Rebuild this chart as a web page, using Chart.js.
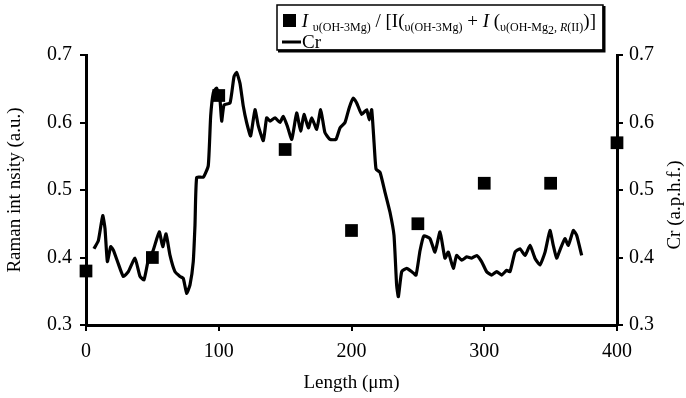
<!DOCTYPE html>
<html>
<head>
<meta charset="utf-8">
<script src="https://cdn.jsdelivr.net/npm/chart.js@4/dist/chart.umd.min.js"></script>
<style>
    html, body { margin: 0; padding: 0; background: #fff; }
    #wrap { width: 686px; height: 398px; position: relative; }
</style>
</head>
<body>
<div id="wrap"><canvas id="chart"></canvas></div>
<script>
// ===== DATA =====
const sampleLengths = [0, 50, 100, 150, 200, 250, 300, 350, 400];
const ramanRatio = [0.38, 0.40, 0.64, 0.56, 0.44, 0.45, 0.51, 0.51, 0.57];

const crLengths = [6.0, 9.3, 12.6, 14.3, 16.1, 18.6, 20.6, 24.3, 28.1, 31.9, 36.9, 40.7, 43.7, 46.9, 50.5,
    55.2, 57.8, 60.3, 63.3, 67.0, 70.8, 73.3, 75.8, 78.3, 80.8, 82.1, 83.4, 88.4, 92.1, 93.9, 95.9, 98.4,
    100.9, 102.2, 104, 108.5, 111.5, 113.5, 116, 118.5, 121, 124, 127.3, 129.8, 133.6, 136.1, 138.6, 142.4,
    146.1, 148.6, 151.6, 155, 158.7, 161.7, 164.2, 167.5, 170, 173.8, 176.8, 180, 183.8, 188.3, 191.3,
    195.1, 198.3, 201.4, 203.9, 207.7, 211.4, 213.4, 215.2, 217, 218.5, 221.5, 225.2, 229, 232, 234, 235.3,
    237.8, 241.6, 245.4, 248.6, 251.6, 254.5, 259.1, 262.9, 266.7, 270.4, 272.9, 276.7, 279.2, 283, 286.8,
    290.5, 294.3, 298, 301.8, 305.6, 309.4, 313.1, 316.9, 319.4, 323.2, 326.9, 330.7, 334.5, 338.2, 342,
    345.8, 349.5, 352, 354.5, 357, 360.8, 363.3, 367.1, 369.6, 373.4];
const crValues = [0.413, 0.425, 0.462, 0.443, 0.394, 0.416, 0.411, 0.391, 0.372, 0.379, 0.399, 0.372, 0.367, 0.396, 0.41,
    0.438, 0.416, 0.435, 0.403, 0.379, 0.372, 0.369, 0.347, 0.359, 0.394, 0.448, 0.519, 0.519, 0.536, 0.609, 0.644, 0.651,
    0.634, 0.602, 0.626, 0.629, 0.668, 0.674, 0.658, 0.624, 0.600, 0.580, 0.619, 0.595, 0.573, 0.607, 0.602, 0.607,
    0.600, 0.609, 0.595, 0.575, 0.614, 0.587, 0.612, 0.592, 0.607, 0.590, 0.619, 0.585, 0.575, 0.575, 0.592,
    0.600, 0.622, 0.636, 0.629, 0.612, 0.619, 0.604, 0.619, 0.570, 0.531, 0.526, 0.497, 0.467, 0.433, 0.359, 0.342,
    0.379, 0.384, 0.379, 0.374, 0.41, 0.432, 0.428, 0.408, 0.438, 0.399, 0.408, 0.384, 0.403, 0.396, 0.401,
    0.399, 0.403, 0.394, 0.379, 0.374, 0.379, 0.374, 0.381, 0.379, 0.408, 0.413, 0.403, 0.418, 0.399, 0.389,
    0.408, 0.440, 0.418, 0.399, 0.411, 0.428, 0.418, 0.440, 0.433, 0.403];

const yTicks = [0.3, 0.4, 0.5, 0.6, 0.7];
const xTicks = [0, 100, 200, 300, 400];

const SERIF = '"Liberation Serif", "DejaVu Serif", serif';

// legend drawn by hand because of the subscripts
const legendPlugin = {
    id: 'paperLegend',
    afterDraw(chart) {
        const ctx = chart.ctx;
        ctx.save();
        // box with heavier right / bottom edge
        ctx.fillStyle = '#fff';
        ctx.fillRect(277, 5, 326, 45);
        ctx.strokeStyle = '#000';
        ctx.lineWidth = 1.5;
        ctx.strokeRect(277, 5, 326, 45);
        ctx.lineWidth = 3;
        ctx.beginPath();
        ctx.moveTo(278, 51); ctx.lineTo(604, 51); ctx.lineTo(604, 6);
        ctx.stroke();

        // square marker
        ctx.fillStyle = '#000';
        ctx.fillRect(283, 14, 13, 13);

        const big = '19px ' + SERIF, bigI = 'italic 19px ' + SERIF;
        const sub = '12px ' + SERIF, subI = 'italic 12px ' + SERIF;
        const parts = [
            [' ', big, 0], ['I', bigI, 0], [' ', big, 0], ['\u03c5(OH-3Mg)', sub, 4], [' / [I(', big, 0],
            ['\u03c5(OH-3Mg)', sub, 4], [' + ', big, 0], ['I', bigI, 0], [' (', big, 0],
            ['\u03c5(OH-Mg', sub, 4], ['2', sub, 7], [', ', sub, 4], ['R', subI, 4], ['(II)', sub, 4], [')]', big, 0]
        ];
        let x = 297;
        const base = 27;
        ctx.textBaseline = 'alphabetic';
        parts.forEach(p => {
            ctx.font = p[1];
            ctx.fillText(p[0], x, base + p[2]);
            x += ctx.measureText(p[0]).width;
        });

        // Cr line
        ctx.lineWidth = 3;
        ctx.beginPath();
        ctx.moveTo(282, 42); ctx.lineTo(301, 42);
        ctx.stroke();
        ctx.font = big;
        ctx.fillText('Cr', 302, 48);

        // right axis title, reading bottom to top
        ctx.translate(675, 205);
        ctx.rotate(-Math.PI / 2);
        ctx.textAlign = 'center';
        ctx.textBaseline = 'middle';
        ctx.font = '19px ' + SERIF;
        ctx.fillText('Cr (a.p.h.f.)', 0, 0);
        ctx.restore();
    }
};

function axisStyle() {
    return {
        border: { color: '#000', width: 3 },
        grid: { drawOnChartArea: false, color: '#000', lineWidth: 2, tickLength: 6 },
        ticks: { color: '#000', font: { family: SERIF, size: 20 }, padding: 6 }
    };
}

const ctx = document.getElementById('chart');
new Chart(ctx, {
    data: {
        datasets: [{
            type: 'scatter',
            label: 'ratio',
            data: sampleLengths.map((v, i) => ({ x: v, y: ramanRatio[i] })),
            yAxisID: 'y',
            pointStyle: 'rect',
            pointRadius: 9,
            pointHoverRadius: 9,
            backgroundColor: '#000',
            borderColor: '#000',
            borderWidth: 0,
            clip: false,
            order: 0
        }, {
            type: 'line',
            label: 'Cr',
            data: crLengths.map((v, i) => ({ x: v, y: crValues[i] })),
            yAxisID: 'y2',
            borderColor: '#000',
            borderWidth: 3.2,
            pointRadius: 0,
            tension: 0.15,
            fill: false,
            order: 1
        }]
    },
    options: {
        responsive: true,
        maintainAspectRatio: false,
        animation: false,
        layout: { padding: { top: 55, left: 0, right: 0, bottom: 0 } },
        plugins: { legend: { display: false }, tooltip: { enabled: false } },
        scales: {
            x: Object.assign(axisStyle(), {
                type: 'linear',
                min: 0, max: 400,
                afterBuildTicks: s => { s.ticks = xTicks.map(v => ({ value: v })); },
                afterFit: s => { s.height = 73; },
                ticks: { color: '#000', font: { family: SERIF, size: 20 }, padding: 9 },
                title: { display: true, text: 'Length (\u03bcm)', color: '#000', font: { family: SERIF, size: 19 }, padding: { top: 12 } }
            }),
            y: Object.assign(axisStyle(), {
                position: 'left',
                min: 0.3, max: 0.7,
                afterBuildTicks: s => { s.ticks = yTicks.map(v => ({ value: v })); },
                afterFit: s => { s.width = 86; },
                ticks: { color: '#000', font: { family: SERIF, size: 20 }, padding: 8 },
                title: { display: true, text: 'Raman int nsity (a.u.)', color: '#000', font: { family: SERIF, size: 19 }, padding: { bottom: 2 } }
            }),
            y2: Object.assign(axisStyle(), {
                position: 'right',
                min: 0.3, max: 0.7,
                afterBuildTicks: s => { s.ticks = yTicks.map(v => ({ value: v })); },
                afterFit: s => { s.width = 69; }
            })
        }
    },
    plugins: [legendPlugin]
});
</script>
</body>
</html>
